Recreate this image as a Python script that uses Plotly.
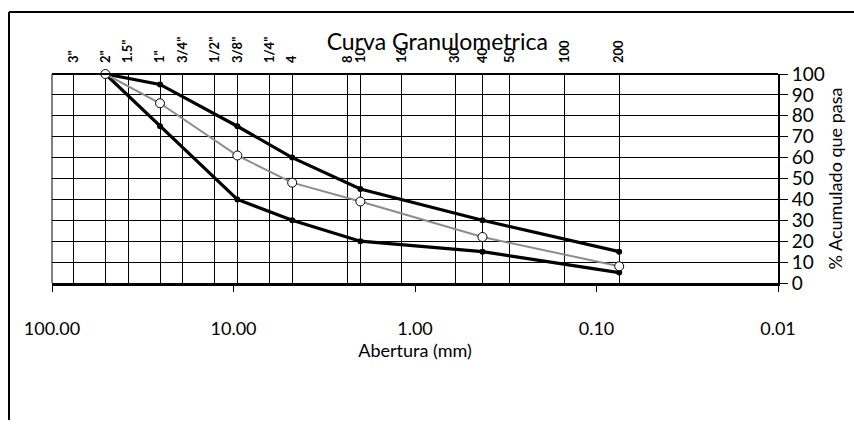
import plotly.graph_objects as go

# Sieve designations and their openings (mm)
sieve_labels = ['3"', '2"', '1.5"', '1"', '3/4"', '1/2"', '3/8"', '1/4"', '4', '8',
                '10', '16', '30', '40', '50', '100', '200']
sieve_mm = [76.2, 50.8, 38.1, 25.4, 19.05, 12.7, 9.525, 6.35, 4.75, 2.36,
            2.0, 1.18, 0.6, 0.425, 0.3, 0.15, 0.075]

# Sieves used for the gradation curves
curve_mm = [50.8, 25.4, 9.525, 4.75, 2.0, 0.425, 0.075]
upper_limit = [100, 95, 75, 60, 45, 30, 15]
lower_limit = [100, 75, 40, 30, 20, 15, 5]
sample = [100, 86, 61, 48, 39, 22, 8]

# Bottom axis ticks
x_ticks = [100, 10, 1, 0.1, 0.01]
x_ticktext = ["100.00", "10.00", "1.00", "0.10", "0.01"]
y_ticks = list(range(0, 101, 10))

FONT = "Lato, 'Open Sans', sans-serif"

fig = go.Figure()

fig.add_trace(go.Scatter(
    x=curve_mm, y=upper_limit, mode="lines+markers",
    line=dict(color="black", width=3.2),
    marker=dict(color="black", size=6),
    cliponaxis=False, showlegend=False))

fig.add_trace(go.Scatter(
    x=curve_mm, y=lower_limit, mode="lines+markers",
    line=dict(color="black", width=3.2),
    marker=dict(color="black", size=6),
    cliponaxis=False, showlegend=False))

fig.add_trace(go.Scatter(
    x=curve_mm, y=sample, mode="lines+markers",
    line=dict(color="#8c8c8c", width=2),
    marker=dict(color="white", size=9, line=dict(color="black", width=1)),
    cliponaxis=False, showlegend=False))

# Invisible trace to activate the top sieve axis
fig.add_trace(go.Scatter(
    x=[sieve_mm[0]], y=[None], xaxis="x2", mode="markers",
    showlegend=False, hoverinfo="skip"))

fig.update_layout(
    width=854, height=429,
    margin=dict(l=52, r=76, t=74, b=146),
    paper_bgcolor="white", plot_bgcolor="white",
    font=dict(family=FONT, color="black"),
    title=dict(text="Curva Granulometrica", x=0.512, xanchor="center",
               y=1 - 42 / 429, yanchor="middle", yref="container",
               font=dict(size=23, family=FONT, color="black")),
    xaxis=dict(
        type="log", range=[2, -2],
        tickvals=x_ticks, ticktext=x_ticktext,
        ticks="outside", ticklen=6, tickcolor="black", tickwidth=1,
        showgrid=False, zeroline=False,
        showline=True, linecolor="black", linewidth=2.5,
        ticklabelstandoff=22,
        tickfont=dict(size=18, family=FONT),
        title=dict(text="Abertura (mm)", standoff=0,
                   font=dict(size=18, family=FONT)),
    ),
    xaxis2=dict(
        type="log", range=[2, -2], overlaying="x", side="top",
        tickvals=sieve_mm, ticktext=sieve_labels, tickangle=-90,
        ticks="", showgrid=True, gridcolor="black", gridwidth=1,
        showline=False, zeroline=False, ticklabelstandoff=10,
        tickfont=dict(size=13, family=FONT, weight="bold"),
    ),
    yaxis=dict(
        range=[0, 100], side="right",
        tickvals=y_ticks, ticks="outside", ticklen=8, tickcolor="black",
        showgrid=True, gridcolor="black", gridwidth=1,
        showline=True, linecolor="black", linewidth=2,
        zeroline=False,
        tickfont=dict(size=19, family=FONT),
        title=dict(text="% Acumulado que pasa", standoff=6,
                   font=dict(size=18, family=FONT)),
    ),
    shapes=[
        # frame of the plot grid
        dict(type="line", xref="x domain", yref="y domain",
             x0=0, x1=0, y0=0, y1=1, line=dict(color="black", width=1)),
        dict(type="line", xref="x domain", yref="y domain",
             x0=0, x1=1, y0=1, y1=1, line=dict(color="black", width=2)),
        # outer border of the chart
        dict(type="line", xref="paper", yref="paper",
             x0=(9 - 52) / 726, x1=(854 - 52) / 726,
             y0=(283 - 12) / 209, y1=(283 - 12) / 209,
             line=dict(color="black", width=2)),
        dict(type="line", xref="paper", yref="paper",
             x0=(9 - 52) / 726, x1=(9 - 52) / 726,
             y0=(283 - 12) / 209, y1=(283 - 420) / 209,
             line=dict(color="black", width=2)),
    ],
)

fig.write_html("out.html")
